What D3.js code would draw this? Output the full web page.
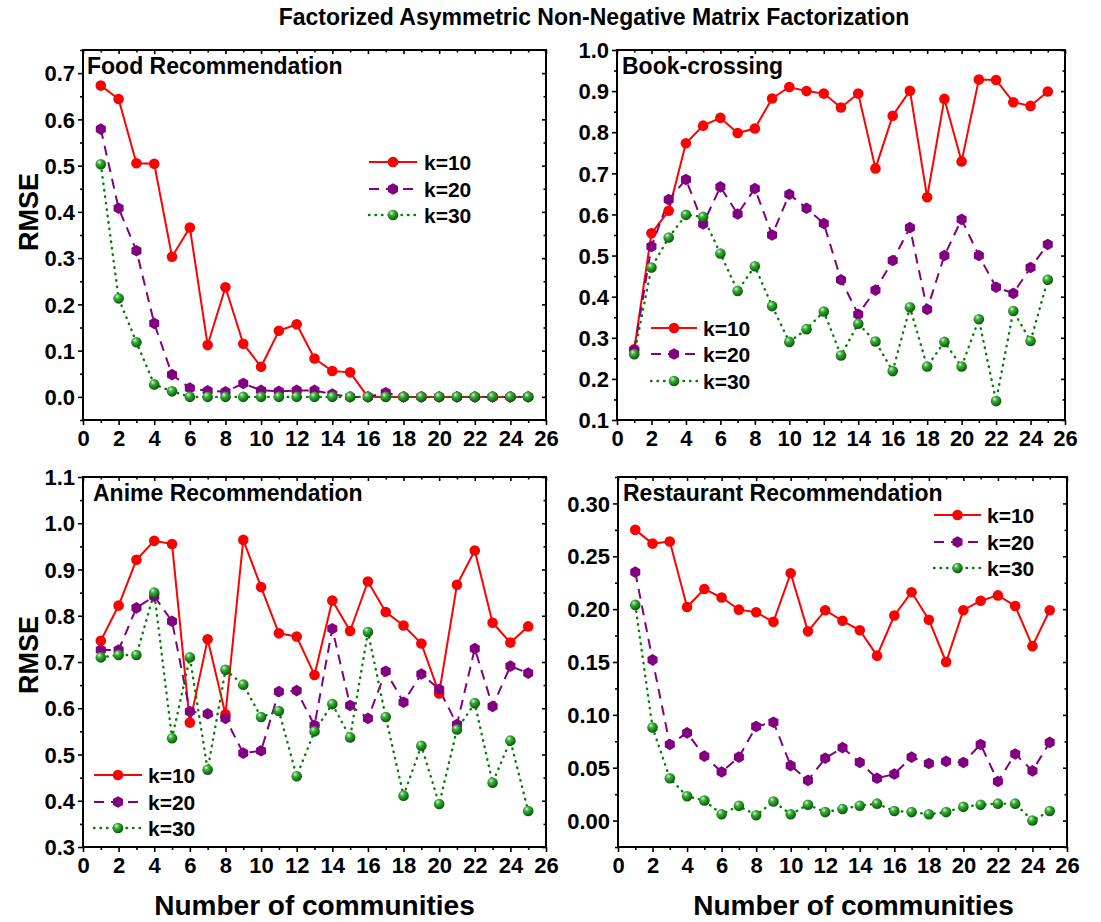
<!DOCTYPE html>
<html><head><meta charset="utf-8">
<script src="https://cdn.jsdelivr.net/npm/d3@7"></script>
<style>
body{margin:0;background:#fff}
text{font-family:"Liberation Sans",Arial,Helvetica,sans-serif;font-weight:bold;fill:#000}
</style>
</head><body>
<svg id="c" width="1101" height="922"></svg>
<script>
// ---------------- DATA ----------------
const chartTitle = "Factorized Asymmetric Non-Negative Matrix Factorization";
const xTitle = "Number of communities";
const yTitle = "RMSE";
const communities = [1,2,3,4,5,6,7,8,9,10,11,12,13,14,15,16,17,18,19,20,21,22,23,24,25];
const xTickValues = [0,2,4,6,8,10,12,14,16,18,20,22,24,26];
const seriesNames = ["k=10","k=20","k=30"];

const foodK10 = [0.673,0.644,0.505,0.504,0.303,0.366,0.112,0.237,0.115,0.065,0.143,0.157,0.083,0.056,0.053,0,0,0,0,0,0,0,0,0,0];
const foodK20 = [0.579,0.408,0.316,0.159,0.048,0.019,0.013,0.011,0.029,0.014,0.012,0.014,0.014,0.006,0,0,0.009,0,0,0,0,0,0,0,0];
const foodK30 = [0.503,0.213,0.118,0.027,0.012,0,0,0,0,0,0,0,0,0,0,0,0,0,0,0,0,0,0,0,0];

const bookK10 = [0.272,0.554,0.609,0.773,0.816,0.835,0.798,0.809,0.882,0.910,0.900,0.894,0.860,0.894,0.712,0.840,0.901,0.642,0.881,0.729,0.928,0.927,0.873,0.864,0.899];
const bookK20 = [0.270,0.522,0.636,0.685,0.577,0.667,0.601,0.663,0.550,0.649,0.615,0.578,0.441,0.357,0.416,0.488,0.568,0.369,0.500,0.588,0.500,0.423,0.408,0.471,0.527];
const bookK30 = [0.260,0.471,0.544,0.599,0.594,0.505,0.414,0.474,0.377,0.290,0.321,0.364,0.257,0.334,0.291,0.219,0.374,0.230,0.290,0.230,0.345,0.146,0.365,0.292,0.441];

const animeK10 = [0.746,0.822,0.921,0.962,0.955,0.569,0.749,0.587,0.964,0.862,0.762,0.755,0.672,0.833,0.767,0.874,0.808,0.779,0.740,0.632,0.867,0.941,0.785,0.742,0.777];
const animeK20 = [0.726,0.726,0.817,0.842,0.788,0.593,0.588,0.578,0.503,0.508,0.636,0.638,0.563,0.772,0.606,0.578,0.680,0.613,0.674,0.641,0.565,0.729,0.604,0.691,0.676];
const animeK30 = [0.710,0.715,0.715,0.850,0.535,0.710,0.467,0.683,0.651,0.581,0.594,0.453,0.550,0.609,0.537,0.765,0.581,0.411,0.519,0.393,0.554,0.611,0.439,0.530,0.378];

const restK10 = [0.275,0.262,0.264,0.202,0.219,0.211,0.1995,0.197,0.188,0.234,0.179,0.199,0.189,0.180,0.156,0.194,0.216,0.190,0.150,0.199,0.208,0.213,0.203,0.165,0.199];
const restK20 = [0.235,0.152,0.072,0.083,0.061,0.046,0.060,0.089,0.093,0.052,0.038,0.059,0.069,0.055,0.040,0.044,0.060,0.054,0.056,0.055,0.072,0.037,0.063,0.047,0.074];
const restK30 = [0.204,0.088,0.040,0.023,0.019,0.006,0.014,0.005,0.018,0.006,0.015,0.008,0.011,0.014,0.016,0.009,0.008,0.006,0.008,0.013,0.015,0.016,0.016,0.000,0.009];

const foodYTicks = [0.0,0.1,0.2,0.3,0.4,0.5,0.6,0.7];
const bookYTicks = [0.1,0.2,0.3,0.4,0.5,0.6,0.7,0.8,0.9,1.0];
const animeYTicks = [0.3,0.4,0.5,0.6,0.7,0.8,0.9,1.0,1.1];
const restYTicks = [0.00,0.05,0.10,0.15,0.20,0.25,0.30];

// ---------------- LAYOUT / STYLE ----------------
const panels = [
  {title:"Food Recommendation", series:[foodK10,foodK20,foodK30], yTicks:foodYTicks, yDom:[-0.05,0.75], fmt:d3.format(".1f"), minorStep:0.05,
   box:{l:83,r:546,t:50,b:420}, titlePos:[87,74], legend:{x1:369,x2:417,tx:424,ys:[162,189,215]}, xLabels:false, yLabel:212},
  {title:"Book-crossing", series:[bookK10,bookK20,bookK30], yTicks:bookYTicks, yDom:[0.1,1.0], fmt:d3.format(".1f"), minorStep:0.05,
   box:{l:617,r:1065,t:50,b:420}, titlePos:[622,74], legend:{x1:651,x2:697,tx:703,ys:[328,354,381]}, xLabels:false, yLabel:null},
  {title:"Anime Recommendation", series:[animeK10,animeK20,animeK30], yTicks:animeYTicks, yDom:[0.3,1.1], fmt:d3.format(".1f"), minorStep:0.05,
   box:{l:83,r:546,t:477,b:847}, titlePos:[93,501], legend:{x1:94,x2:142,tx:148,ys:[775,802,828]}, xLabels:true, yLabel:655},
  {title:"Restaurant Recommendation", series:[restK10,restK20,restK30], yTicks:restYTicks, yDom:[-0.025,0.325], fmt:d3.format(".2f"), minorStep:0.025,
   box:{l:618,r:1067,t:477,b:847}, titlePos:[623,501], legend:{x1:934,x2:981,tx:987,ys:[515,542,568]}, xLabels:true, yLabel:null}
];

const colors = ["#ff0000","#800080","#008000"];
const dashes = [null,"10,7","0.5,6"];
const widths = [2,2,2.4];

const svg = d3.select("#c");
const defs = svg.append("defs");
const grad = defs.append("radialGradient").attr("id","ball").attr("cx","40%").attr("cy","35%").attr("r","65%").attr("fx","35%").attr("fy","30%");
grad.append("stop").attr("offset","0%").attr("stop-color","#d8f5d8");
grad.append("stop").attr("offset","35%").attr("stop-color","#3fae3f");
grad.append("stop").attr("offset","100%").attr("stop-color","#005a00");

const hexPath = (r) => {
  const pts = d3.range(6).map(i => { const a = Math.PI/6 + i*Math.PI/3; return [r*Math.cos(a), r*Math.sin(a)]; });
  return "M" + pts.map(p=>p.join(",")).join("L") + "Z";
};

function drawMarker(g, si, x, y){
  if(si===0){
    g.append("circle").attr("cx",x).attr("cy",y).attr("r",5.3).attr("fill",colors[0]);
  } else if(si===1){
    g.append("path").attr("d",hexPath(5.8)).attr("transform",`translate(${x},${y})`).attr("fill",colors[1]);
  } else {
    g.append("circle").attr("cx",x).attr("cy",y).attr("r",5.3).attr("fill","url(#ball)");
  }
}

svg.append("text").attr("x",594).attr("y",25).attr("text-anchor","middle").style("font-size","23px").text(chartTitle);

panels.forEach(p => {
  const {l,r,t,b} = p.box;
  const x = d3.scaleLinear().domain([0,26]).range([l,r]);
  const y = d3.scaleLinear().domain(p.yDom).range([b,t]);
  const g = svg.append("g");

  // minor ticks
  const xMinor = communities.filter(v => v%2===1);
  const yMinor = p.yTicks.slice(0,-1).map((v,i)=> (v + p.yTicks[i+1])/2);
  if (y(p.yTicks[p.yTicks.length-1] + p.minorStep) >= t-0.5) yMinor.push(p.yTicks[p.yTicks.length-1] + p.minorStep);
  if (y(p.yTicks[0] - p.minorStep) <= b+0.5) yMinor.push(p.yTicks[0] - p.minorStep);

  const axB = g.append("g").attr("transform",`translate(0,${b})`)
    .call(d3.axisBottom(x).tickValues(xTickValues).tickSize(5).tickFormat(d3.format("d")));
  axB.append("g").call(d3.axisBottom(x).tickValues(xMinor).tickSize(3).tickFormat(""));
  const axT = g.append("g").attr("transform",`translate(0,${t})`)
    .call(d3.axisBottom(x).tickValues(xTickValues).tickSize(4).tickFormat(""));
  axT.append("g").call(d3.axisBottom(x).tickValues(xMinor).tickSize(2.5).tickFormat(""));
  const axL = g.append("g").attr("transform",`translate(${l},0)`)
    .call(d3.axisLeft(y).tickValues(p.yTicks).tickSize(5).tickFormat(p.fmt));
  axL.append("g").call(d3.axisLeft(y).tickValues(yMinor).tickSize(3).tickFormat(""));
  const axR = g.append("g").attr("transform",`translate(${r},0)`)
    .call(d3.axisLeft(y).tickValues(p.yTicks).tickSize(4).tickFormat(""));
  axR.append("g").call(d3.axisLeft(y).tickValues(yMinor).tickSize(2.5).tickFormat(""));

  g.selectAll(".domain").remove();
  g.selectAll(".tick line").attr("stroke","#000").attr("stroke-width",1.6);
  axB.selectAll(".tick text").style("font-size","22px").attr("dy","0.95em").attr("y",5);
  axL.selectAll(".tick text").style("font-size","22px").attr("x",-8).attr("dy","0.35em");

  g.append("rect").attr("x",l).attr("y",t).attr("width",r-l).attr("height",b-t)
    .attr("fill","none").attr("stroke","#000").attr("stroke-width",2);

  // panel title
  g.append("text").attr("x",p.titlePos[0]).attr("y",p.titlePos[1]).style("font-size","23px").text(p.title);

  // series
  p.series.forEach((vals,si) => {
    const line = d3.line().x((d,i)=>x(communities[i])).y(d=>y(d));
    g.append("path").datum(vals).attr("d",line).attr("fill","none")
      .attr("stroke",colors[si]).attr("stroke-width",widths[si])
      .attr("stroke-dasharray",dashes[si]).attr("stroke-linecap", si===2?"round":"butt");
  });
  p.series.forEach((vals,si) => {
    vals.forEach((v,i) => drawMarker(g, si, x(communities[i]), y(v)));
  });

  // legend
  seriesNames.forEach((name,si) => {
    const ly = p.legend.ys[si];
    g.append("line").attr("x1",p.legend.x1).attr("x2",p.legend.x2).attr("y1",ly).attr("y2",ly)
      .attr("stroke",colors[si]).attr("stroke-width",widths[si]).attr("stroke-dasharray",dashes[si])
      .attr("stroke-linecap", si===2?"round":"butt");
    drawMarker(g, si, (p.legend.x1+p.legend.x2)/2, ly);
    g.append("text").attr("x",p.legend.tx).attr("y",ly).attr("dy","0.36em").style("font-size","21px").text(name);
  });

  if (p.xLabels){
    g.append("text").attr("x",(l+r)/2 + (l>300?11:0)).attr("y",915).attr("text-anchor","middle").style("font-size","28px").text(xTitle);
  }
  if (p.yLabel!==null){
    g.append("text").attr("transform",`translate(38,${p.yLabel}) rotate(-90)`).attr("text-anchor","middle").style("font-size","27px").text(yTitle);
  }
});
</script>
</body></html>
